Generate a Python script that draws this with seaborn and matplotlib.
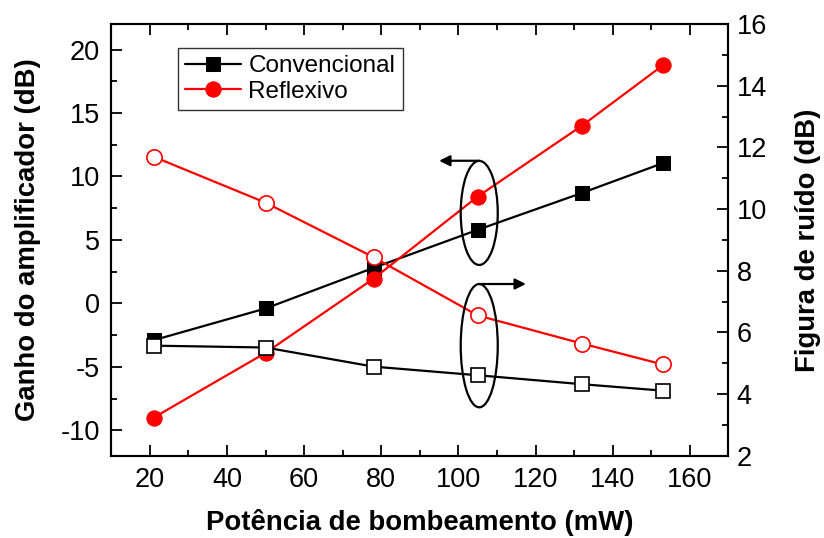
import matplotlib
matplotlib.use("Agg")
import matplotlib.pyplot as plt
from matplotlib.patches import Ellipse
from matplotlib.ticker import MultipleLocator
import seaborn as sns
import pandas as pd

# Data
potencia = [21, 50, 78, 105, 132, 153]
ganho_conv = [-2.9, -0.4, 2.8, 5.8, 8.7, 11.05]
ganho_refl = [-9.0, -3.9, 1.95, 8.42, 14.0, 18.76]
nf_conv = [5.57, 5.51, 4.89, 4.61, 4.32, 4.11]
nf_refl = [11.70, 10.21, 8.44, 6.55, 5.64, 4.96]

sns.set_style("ticks")
plt.rcParams['font.family'] = ['Liberation Sans', 'DejaVu Sans']
plt.rcParams['axes.unicode_minus'] = False
for k in ('text.color', 'axes.labelcolor', 'xtick.color', 'ytick.color', 'axes.edgecolor'):
    plt.rcParams[k] = 'black'

fig = plt.figure(figsize=(8.24, 5.38), dpi=100)
ax = fig.add_axes([0.135, 0.153, 0.749, 0.802])
ax2 = ax.twinx()

lw = 1.6
ms = 10
sns.lineplot(x=potencia, y=ganho_conv, ax=ax, color='black', marker='s', markersize=ms,
             markeredgecolor='black', linewidth=lw, label='Convencional')
sns.lineplot(x=potencia, y=ganho_refl, ax=ax, color='red', marker='o', markersize=ms + 1,
             markeredgecolor='red', linewidth=lw, label='Reflexivo')
sns.lineplot(x=potencia, y=nf_conv, ax=ax2, color='black', marker='s', markersize=ms,
             markerfacecolor='white', markeredgecolor='black', markeredgewidth=1.2, linewidth=lw)
sns.lineplot(x=potencia, y=nf_refl, ax=ax2, color='red', marker='o', markersize=ms + 1,
             markerfacecolor='white', markeredgecolor='red', markeredgewidth=1.2, linewidth=lw)

ax.set_xlim(10, 170)
ax.set_ylim(-12, 22)
ax2.set_ylim(2, 16)

ax.xaxis.set_major_locator(MultipleLocator(20))
ax.xaxis.set_minor_locator(MultipleLocator(10))
ax.yaxis.set_major_locator(MultipleLocator(5))
ax.yaxis.set_minor_locator(MultipleLocator(2.5))
ax2.yaxis.set_major_locator(MultipleLocator(2))
ax2.yaxis.set_minor_locator(MultipleLocator(1))

tick_fs = 19.5
ax.tick_params(axis='x', which='both', direction='in', top=True, labelsize=tick_fs, pad=8)
ax.tick_params(axis='y', which='both', direction='in', left=True, right=False, labelsize=tick_fs, pad=8)
ax2.tick_params(axis='y', which='both', direction='in', right=True, labelsize=tick_fs, pad=6)
for a in (ax, ax2):
    a.tick_params(which='major', length=8, width=1.3, color='black')
    a.tick_params(which='minor', length=4, width=1.3, color='black')
    for s in a.spines.values():
        s.set_linewidth(1.5)
        s.set_color('black')
        s.set_visible(True)

lab_fs = 19.8
ax.set_xlabel('Potência de bombeamento (mW)', fontsize=lab_fs, fontweight='bold', labelpad=12)
ax.set_ylabel('Ganho do amplificador (dB)', fontsize=lab_fs, fontweight='bold', labelpad=14)
ax2.set_ylabel('Figura de ruído (dB)', fontsize=lab_fs, fontweight='bold', labelpad=20)

leg = ax.legend(loc='upper left', bbox_to_anchor=(0.108, 0.945), fontsize=17.5, frameon=True,
                fancybox=False, edgecolor='black', handlelength=2.3, handletextpad=0.3,
                borderpad=0.3, labelspacing=0.15, borderaxespad=0)
leg.get_frame().set_linewidth(1.0)

# Ellipses and arrows
e1 = Ellipse((105.4, 7.13), 9.6, 8.2, fill=False, edgecolor='black', linewidth=1.6, zorder=5)
ax.add_patch(e1)
ax.annotate('', xy=(95, 11.24), xytext=(105.4, 11.24),
            arrowprops=dict(arrowstyle='-|>', color='black', lw=1.6, mutation_scale=16,
                            shrinkA=0, shrinkB=0), zorder=6)
e2 = Ellipse((105.4, 5.57), 9.6, 4.0, fill=False, edgecolor='black', linewidth=1.6, zorder=5)
ax2.add_patch(e2)
ax2.annotate('', xy=(117.5, 7.57), xytext=(105.4, 7.57),
             arrowprops=dict(arrowstyle='-|>', color='black', lw=1.6, mutation_scale=16,
                             shrinkA=0, shrinkB=0), zorder=6)

fig.savefig('out.png', dpi=100)
